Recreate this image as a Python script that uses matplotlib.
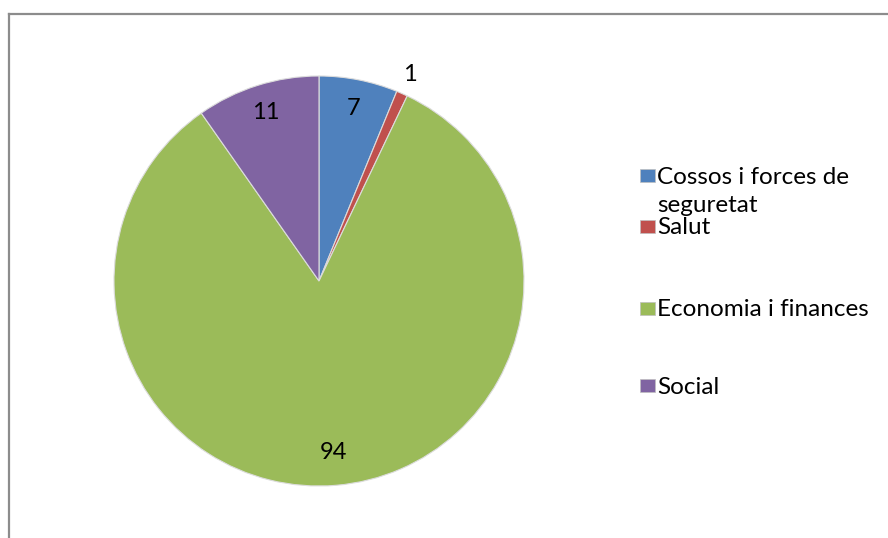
import matplotlib
matplotlib.use("Agg")
import matplotlib.pyplot as plt
from matplotlib.patches import Rectangle
from matplotlib.lines import Line2D
import numpy as np

categories = ["Cossos i forces de\nseguretat", "Salut", "Economia i finances", "Social"]
values = [7, 1, 94, 11]
colors = ["#4F81BD", "#C0504D", "#9BBB59", "#8064A2"]

plt.rcParams['font.family'] = ['Lato', 'DejaVu Sans']

W, H = 888, 538
fig = plt.figure(figsize=(W / 100, H / 100), dpi=100)

# Border (top and left)
fig.add_artist(Line2D([9 / W, 9 / W], [0, 1 - 14 / H], color="#8c8c8c", lw=1.6, transform=fig.transFigure))
fig.add_artist(Line2D([9 / W, 1], [1 - 14 / H, 1 - 14 / H], color="#8c8c8c", lw=1.6, transform=fig.transFigure))

cx, cy, r = 319, 281, 205
ax = fig.add_axes([(cx - r) / W, (H - cy - r) / H, 2 * r / W, 2 * r / H])
wedges, _ = ax.pie(values, colors=colors, startangle=90, counterclock=False,
                   radius=1.0, wedgeprops=dict(edgecolor="#dcdcdc", linewidth=0.8))
ax.set_xlim(-1, 1)
ax.set_ylim(-1, 1)
ax.set_aspect("equal")
ax.axis("off")

# Data labels
total = sum(values)
label_r = [0.86, 1.1, 0.84, 0.86]
ang = 90.0
for v, lr in zip(values, label_r):
    span = 360.0 * v / total
    mid = np.deg2rad(ang - span / 2)
    ax.text(lr * np.cos(mid), lr * np.sin(mid), str(v), ha="center", va="center",
            fontsize=17, color="#000000")
    ang -= span

# Legend (manual)
legend_y = [175, 226, 308, 385]
for lab, col, y in zip(categories, colors, legend_y):
    fig.add_artist(Rectangle((640 / W, (H - y - 7) / H), 15 / W, 13 / H,
                             transform=fig.transFigure, facecolor=col, edgecolor="#bfbfbf", lw=0.5))
    for i, ln in enumerate(lab.split("\n")):
        fig.text(657 / W, (H - y - i * 28) / H, ln, ha="left", va="center_baseline",
                 fontsize=17.5, color="#000000")

fig.savefig("out.png", dpi=100)
